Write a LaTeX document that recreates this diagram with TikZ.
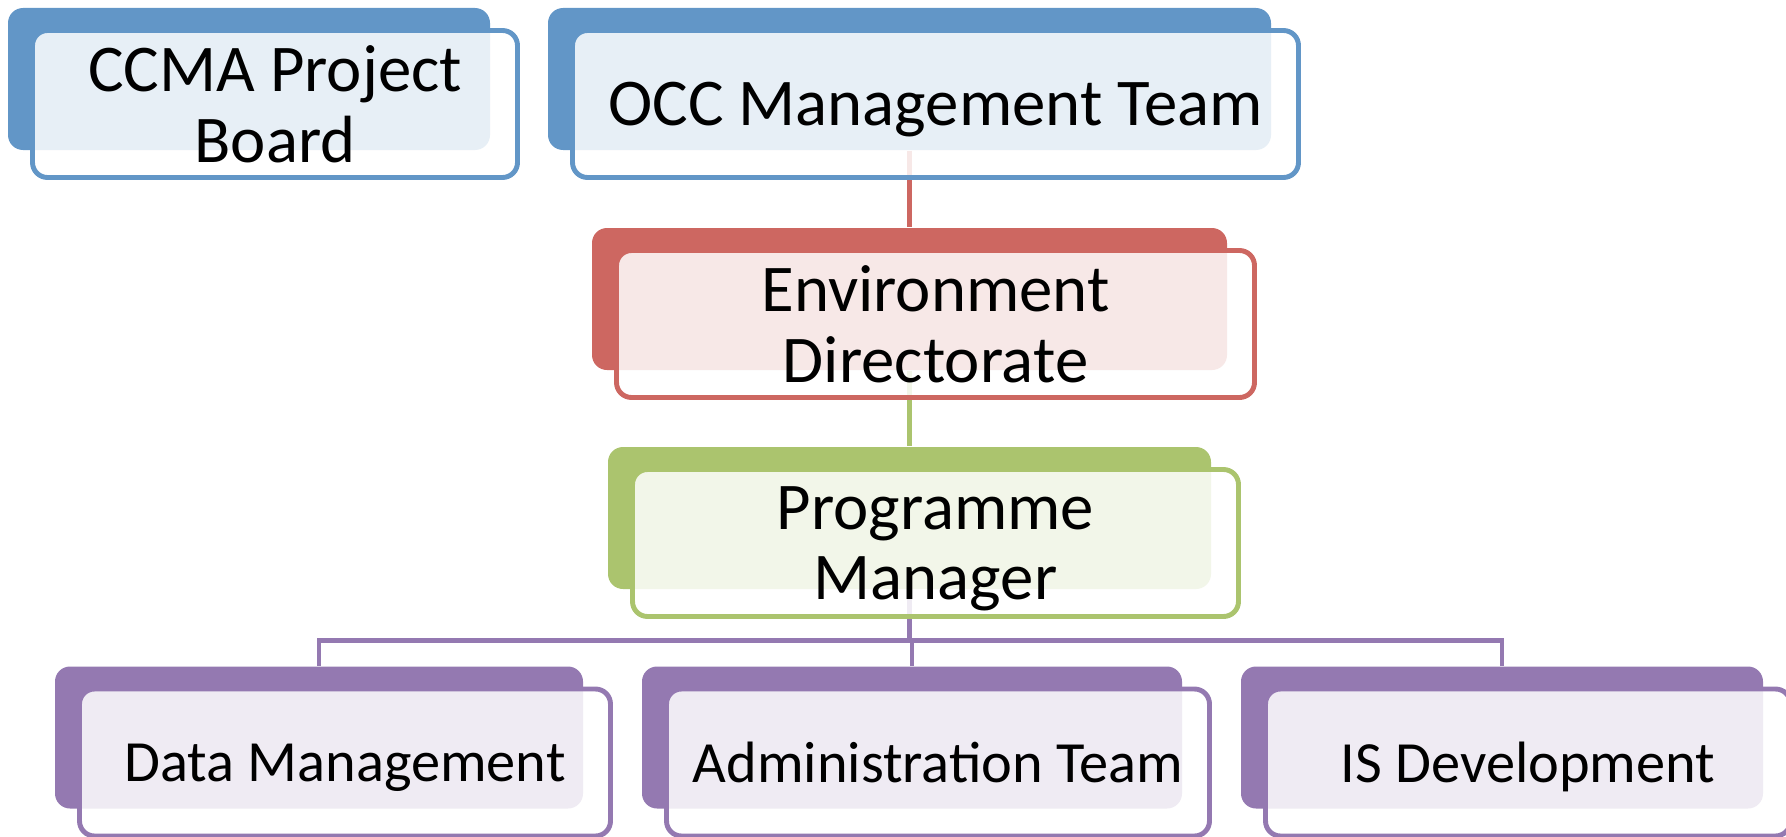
\documentclass[tikz,border=0pt]{standalone}
\usepackage{fontspec}
\setmainfont{Carlito}
\usepackage{tikz}
\usetikzlibrary{arrows,shapes}
\pgfdeclarelayer{background}
\pgfsetlayers{background,main}
\definecolor{blueT}{RGB}{98,150,199}
\definecolor{redT}{RGB}{205,103,97}
\definecolor{greenT}{RGB}{171,196,110}
\definecolor{purpleT}{RGB}{148,121,177}
\tikzstyle{backbox}=[rectangle,rounded corners=0.15cm,minimum height=1.42cm,inner sep=0pt]
\tikzstyle{frontbox}=[rectangle,rounded corners=0.15cm,minimum height=1.47cm,inner sep=0pt,line width=1.4pt,fill=white,fill opacity=0.85,text opacity=1,align=center,text depth=0pt]
\tikzstyle{bigtext}=[font=\fontsize{19}{20}\selectfont]
\tikzstyle{smalltext}=[font=\fontsize{16.6}{17.5}\selectfont]
\tikzstyle{link} = [draw,line width=1.3pt]

\begin{document}
\begin{tikzpicture}
    \useasboundingbox (0,0) rectangle (17.86,-8.37);
    \clip (0,0) rectangle (17.86,-8.37);
    % First we draw the back boxes
    \foreach \pos/\name/\w/\col in {{(2.49,-0.79)/ccmaB/4.82/blueT}, {(9.095,-0.79)/occB/7.23/blueT}, {(9.095,-2.99)/envB/6.35/redT}, {(9.095,-5.18)/pmB/6.03/greenT}, {(3.19,-7.375)/dataB/5.28/purpleT}, {(9.12,-7.375)/adminB/5.40/purpleT}, {(15.02,-7.375)/isB/5.22/purpleT}}
       \node[backbox, fill=\col, minimum width=\w cm] (\name) at \pos {};
    % Then the front boxes that carry the text
    \foreach \back/\name/\w/\col/\st/\txt in {ccmaB/ccma/4.85/blueT/bigtext/{CCMA Project\\Board}, occB/occ/7.26/blueT/bigtext/{OCC Management Team}, envB/env/6.38/redT/bigtext/{Environment\\Directorate}, pmB/pm/6.06/greenT/bigtext/{Programme\\Manager}, dataB/data/5.31/purpleT/smalltext/{Data Management}, adminB/admin/5.43/purpleT/smalltext/{Administration Team}, isB/is/5.25/purpleT/smalltext/{IS Development}}
       \node[frontbox, \st, draw=\col, minimum width=\w cm, xshift=0.26cm, yshift=-0.25cm] (\name) at (\back) {\txt};
    % Connect boxes with lines
    \begin{pgfonlayer}{background}
    \path[link, draw=redT] (occB) -- (envB);
    \path[link, draw=greenT] (envB) -- (pmB);
    \foreach \dest in {dataB, adminB, isB}
        \path[link, draw=purpleT] (pmB.south) -- ++(0,-0.51) -| (\dest.north);
    \end{pgfonlayer}
\end{tikzpicture}
\end{document}
